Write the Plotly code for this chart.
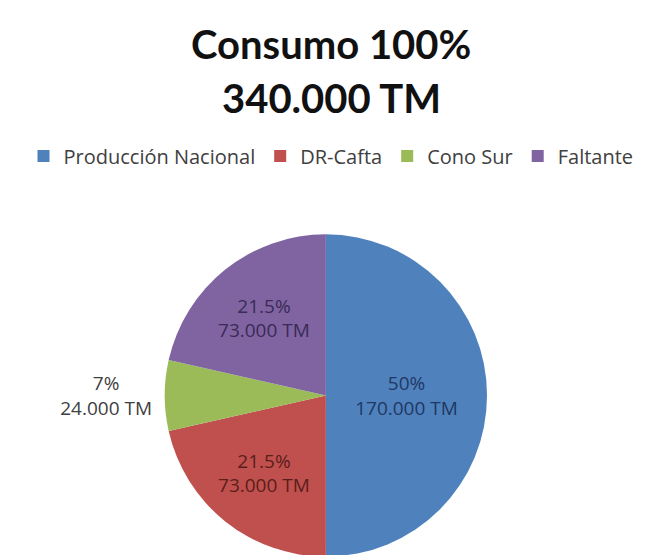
import plotly.graph_objects as go

categories = ["Producción Nacional", "DR-Cafta", "Cono Sur", "Faltante"]
values = [170000, 73000, 24000, 73000]
pct_labels = ["50%", "21.5%", "7%", "21.5%"]
tm_labels = ["170.000 TM", "73.000 TM", "24.000 TM", "73.000 TM"]
title_lines = ["Consumo 100%", "340.000 TM"]

colors = ["#4F81BD", "#C0504D", "#9BBB59", "#8064A2"]
text_colors = ["#1F3864", "#5A1E1C", "#404040", "#3A2A55"]
positions = ["inside", "inside", "outside", "inside"]

fig = go.Figure(go.Pie(
    labels=categories,
    values=values,
    text=[f"{p}<br>{t}" for p, t in zip(pct_labels, tm_labels)],
    textinfo="text",
    textposition=positions,
    insidetextorientation="horizontal",
    textfont=dict(family="Open Sans, Lato, sans-serif", size=19, color=text_colors),
    marker=dict(colors=colors, line=dict(width=0)),
    sort=False,
    direction="clockwise",
    rotation=0,
    domain=dict(x=[0.2426, 0.7416], y=[0.0108, 0.5928]),
    showlegend=True,
    hoverinfo="label+value+percent",
))

title_y = [36, 90]
for line, ypx in zip(title_lines, title_y):
    fig.add_annotation(
        text=f"<b>{line}</b>", xref="paper", yref="paper",
        x=0.5, y=1 - ypx / 555, xanchor="center", yanchor="middle",
        showarrow=False, font=dict(family="Lato, Open Sans, sans-serif", size=40, color="#111111"),
    )

fig.update_layout(
    width=646, height=555,
    margin=dict(l=0, r=0, t=0, b=0),
    paper_bgcolor="white", plot_bgcolor="white",
    legend=dict(orientation="h", x=0.5, xanchor="center", y=1 - 148 / 555, yanchor="middle",
                font=dict(family="Open Sans, Lato, sans-serif", size=20, color="#404040"),
                itemwidth=30, traceorder="normal"),
)

fig.write_html("out.html")
